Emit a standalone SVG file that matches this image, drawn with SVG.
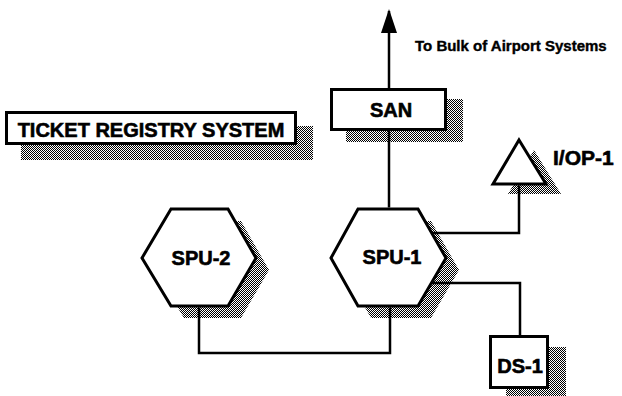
<svg xmlns="http://www.w3.org/2000/svg" width="622" height="396" viewBox="0 0 622 396">
  <defs>
    <pattern id="dither" width="2" height="2" patternUnits="userSpaceOnUse">
      <rect x="0" y="0" width="1" height="1" fill="#000"/>
      <rect x="1" y="1" width="1" height="1" fill="#000"/>
    </pattern>
    <marker id="arrow" viewBox="0 0 24 16" refX="22" refY="8" markerWidth="24" markerHeight="16" markerUnits="userSpaceOnUse" orient="auto">
      <path d="M0,0 L24,8 L0,16 Z" fill="#000"/>
    </marker>
  </defs>
  <style>
    .shadow { fill: url(#dither); stroke: none; }
    .shape { fill: #fff; stroke: #000; stroke-width: 3; stroke-linejoin: miter; }
    .conn { fill: none; stroke: #000; stroke-width: 2.5; }
    .lbl { font-family: "Liberation Sans", Arial, sans-serif; font-weight: bold; fill: #000; stroke: #000; stroke-width: 0.6; }
  </style>
  <rect width="622" height="396" fill="#fff"/>

  <g id="title">
    <rect class="shadow" x="21" y="126" width="292" height="34"/>
    <rect class="shape" x="6.5" y="112.5" width="289" height="31"/>
    <text class="lbl" x="151" y="137" font-size="20" text-anchor="middle">TICKET REGISTRY SYSTEM</text>
  </g>

  <g id="san">
    <rect class="shadow" x="346" y="99" width="117" height="43"/>
    <rect class="shape" x="331.5" y="89.5" width="114" height="40"/>
    <text class="lbl" x="391" y="117" font-size="20" text-anchor="middle">SAN</text>
  </g>

  <g id="spu1">
    <polygon class="shadow" transform="translate(13,12)" points="331,258 358,209 418,209 446,258 418,306 358,306"/>
    <polygon class="shape" points="331,258 358,209 418,209 446,258 418,306 358,306"/>
    <text class="lbl" x="392" y="264" font-size="20" text-anchor="middle">SPU-1</text>
  </g>

  <g id="spu2">
    <polygon class="shadow" transform="translate(13,12)" points="142,258 171,209 228,209 256,258 228,306 171,306"/>
    <polygon class="shape" points="142,258 171,209 228,209 256,258 228,306 171,306"/>
    <text class="lbl" x="201" y="265" font-size="20" text-anchor="middle">SPU-2</text>
  </g>

  <g id="iop1">
    <polygon class="shadow" transform="translate(15,10)" points="519,140 546,184 493,184"/>
    <polygon class="shape" points="519,140 546,184 493,184"/>
    <text class="lbl" x="553" y="165" font-size="21">I/OP-1</text>
  </g>

  <g id="ds1">
    <rect class="shadow" x="506" y="347" width="60" height="54"/>
    <rect class="shape" x="490.5" y="336.5" width="57" height="51"/>
    <text class="lbl" x="520" y="373" font-size="20" text-anchor="middle">DS-1</text>
  </g>

  <g id="connectors">
    <line class="conn" x1="389" y1="88" x2="389" y2="11" marker-end="url(#arrow)"/>
    <line class="conn" x1="389" y1="131" x2="389" y2="207.5"/>
    <polyline class="conn" points="199,307.5 199,353 390,353 390,307.5"/>
    <polyline class="conn" points="431,233 519,233 519,185.5"/>
    <polyline class="conn" points="431,283 520,283 520,335"/>
  </g>

  <text class="lbl" x="415" y="51" font-size="15" style="stroke-width:0.4">To Bulk of Airport Systems</text>
</svg>
